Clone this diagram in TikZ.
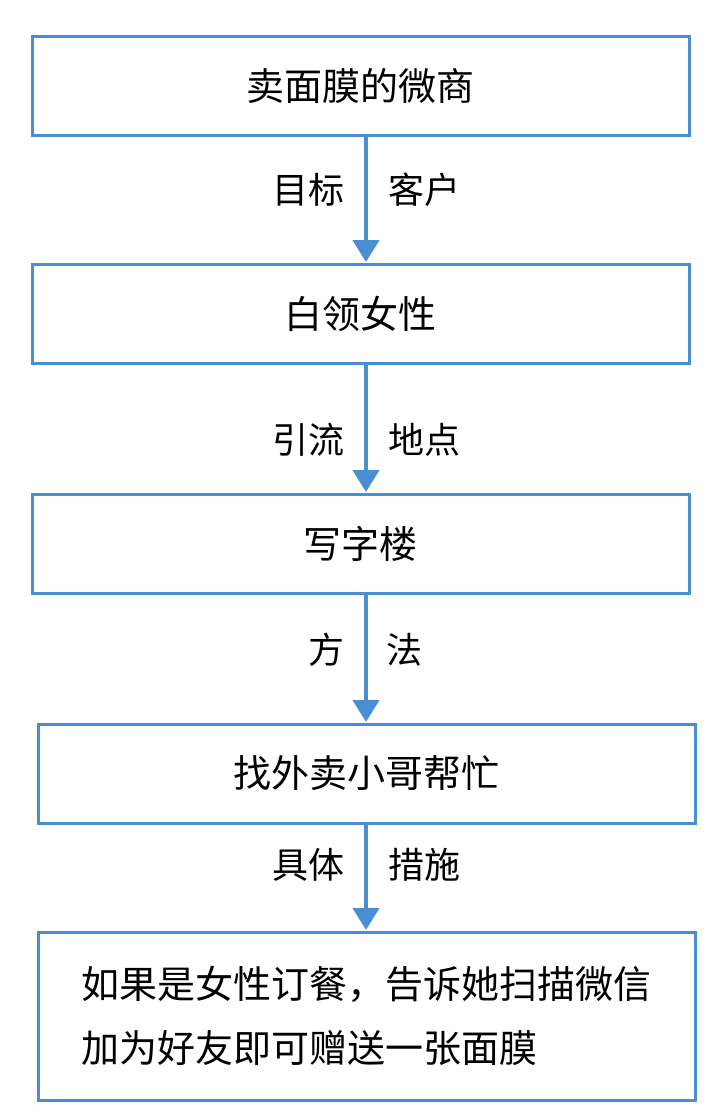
\documentclass[tikz,border=0pt]{standalone}
\usepackage{fontspec}
\usetikzlibrary{arrows.meta}
\newfontfamily\cjk{Noto Sans CJK SC}[Scale=1]
\definecolor{bl}{HTML}{4A8FD2}
\begin{document}
\begin{tikzpicture}[x=1pt,y=-1pt,
  bx/.style={draw=bl,line width=3pt,minimum width=657pt,inner sep=0pt,font=\cjk\fontsize{38}{44}\selectfont,align=center},
  ar/.style={draw=bl,line width=4.5pt,-{Triangle[length=22pt,width=26pt]}},
  lb/.style={font=\cjk\fontsize{36}{42}\selectfont}]
\useasboundingbox (0,0) rectangle (713,1118);
\node[bx,minimum height=99pt] (a) at (360.5,86.5) {卖面膜的微商};
\node[bx,minimum height=99pt] (b) at (360.5,313.5) {白领女性};
\node[bx,minimum height=99pt] (c) at (360.5,543.5) {写字楼};
\node[bx,minimum height=99pt] (d) at (366.5,773.5) {找外卖小哥帮忙};
\node[bx,minimum height=168pt,align=left] (e) at (366.5,1016) {如果是女性订餐，告诉她扫描微信\\[20pt]加为好友即可赠送一张面膜};
\draw[ar] (366,136) -- (366,262);
\draw[ar] (366,363) -- (366,492);
\draw[ar] (366,593) -- (366,722);
\draw[ar] (366,823) -- (366,930);
\node[lb] (l1) at (308,190) {目标}; \node[lb] (r1) at (424,190) {客户};
\node[lb] (l2) at (308,440) {引流}; \node[lb] (r2) at (424,440) {地点};
\node[lb] (l3) at (326,650) {方}; \node[lb] (r3) at (404,650) {法};
\node[lb] (l4) at (308,865) {具体}; \node[lb] (r4) at (424,865) {措施};
\end{tikzpicture}
\end{document}
